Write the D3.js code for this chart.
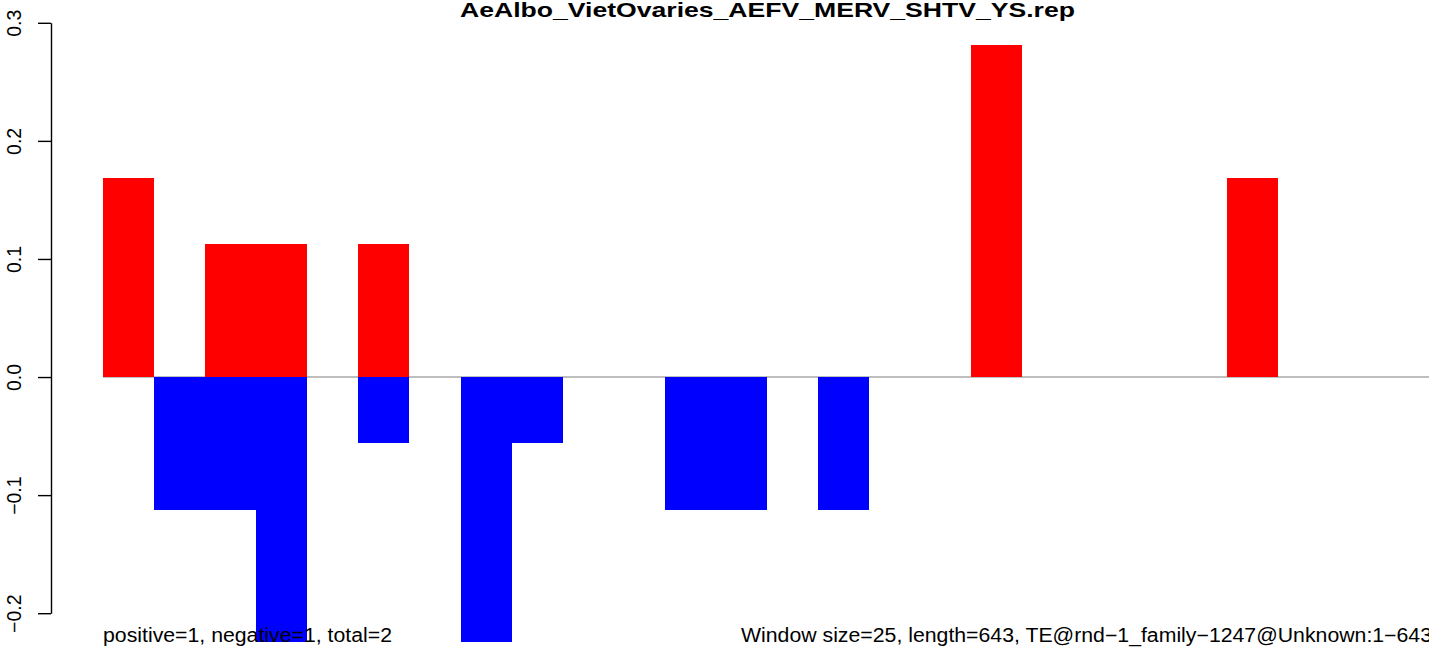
<!DOCTYPE html>
<html>
<head>
<meta charset="utf-8">
<script src="https://cdn.jsdelivr.net/npm/d3@7"></script>
<style>
  html, body { margin: 0; padding: 0; background: #fff; }
  svg { display: block; }
  text { font-family: "Liberation Sans", Arial, Helvetica, sans-serif; fill: #000; }
</style>
</head>
<body>
<svg id="chart" width="1429" height="651"></svg>
<script>
// ---- data ----
const titleText = "AeAlbo_VietOvaries_AEFV_MERV_SHTV_YS.rep";
const windowSize = 25;
const seqLength = 643;
const windowIndex = d3.range(26);
const positiveValues = [0.1685, 0, 0.1124, 0.1124, 0, 0.1124, 0, 0, 0, 0, 0, 0, 0,
                        0, 0, 0, 0, 0.2809, 0, 0, 0, 0, 0.1685, 0, 0, 0];
const negativeValues = [0, -0.1124, -0.1124, -0.2247, 0, -0.0562, 0, -0.2247, -0.0562, 0, 0, -0.1124, -0.1124,
                        0, -0.1124, 0, 0, 0, 0, 0, 0, 0, 0, 0, 0, 0];
const yTicks = [-0.2, -0.1, 0.0, 0.1, 0.2, 0.3];
const leftNote = "positive=1, negative=1, total=2";
const rightNote = "Window size=25, length=643, TE@rnd\u22121_family\u22121247@Unknown:1\u2212643";

// ---- layout ----
const svg = d3.select("#chart");
const x = d3.scaleLinear().domain([0, windowIndex.length * windowSize]).range([103, 1431]);
const y = d3.scaleLinear().domain([-0.2, 0.3]).range([613.2, 22.8]);

// zero line
svg.append("line")
  .attr("x1", x(0)).attr("x2", 1440)
  .attr("y1", y(0)).attr("y2", y(0))
  .attr("stroke", "#a9a9a9").attr("stroke-width", 1.5);

// bars
const bars = svg.append("g");
function barData(vals) {
  return windowIndex.map(i => ({ i, v: vals[i] })).filter(d => d.v !== 0);
}
bars.selectAll("rect.pos").data(barData(positiveValues)).join("rect")
  .attr("class", "pos")
  .attr("x", d => x(d.i * windowSize))
  .attr("width", d => x((d.i + 1) * windowSize) - x(d.i * windowSize))
  .attr("y", d => y(d.v))
  .attr("height", d => y(0) - y(d.v))
  .attr("fill", "#ff0000")
  .attr("shape-rendering", "crispEdges");
bars.selectAll("rect.neg").data(barData(negativeValues)).join("rect")
  .attr("class", "neg")
  .attr("x", d => x(d.i * windowSize))
  .attr("width", d => x((d.i + 1) * windowSize) - x(d.i * windowSize))
  .attr("y", d => y(0))
  .attr("height", d => y(d.v) - y(0))
  .attr("fill", "#0000ff")
  .attr("shape-rendering", "crispEdges");

// y axis
const axis = d3.axisLeft(y).tickValues(yTicks).tickSize(13).tickSizeOuter(0)
  .tickFormat(d3.format(".1f"));
const gA = svg.append("g").attr("transform", "translate(51,0)").call(axis);
gA.select(".domain").attr("stroke", "#000").attr("stroke-width", 1.4);
gA.selectAll(".tick line").attr("stroke", "#000").attr("stroke-width", 1.4);
gA.selectAll(".tick text")
  .attr("x", null).attr("dy", null)
  .attr("text-anchor", "middle")
  .attr("transform", "translate(-30.5,0) rotate(-90)")
  .style("font-size", "19.5px")
  .style("font-family", "'Liberation Sans', Arial, Helvetica, sans-serif")
  .attr("fill", "#000");

// title
svg.append("text")
  .attr("x", 767.5).attr("y", 17)
  .attr("text-anchor", "middle")
  .attr("textLength", 615).attr("lengthAdjust", "spacingAndGlyphs")
  .style("font-size", "21px").style("font-weight", "bold")
  .text(titleText);

// bottom notes
svg.append("text")
  .attr("x", 103).attr("y", 642)
  .attr("textLength", 289).attr("lengthAdjust", "spacingAndGlyphs")
  .style("font-size", "19.5px")
  .text(leftNote);
svg.append("text")
  .attr("x", 741).attr("y", 642)
  .attr("textLength", 691).attr("lengthAdjust", "spacingAndGlyphs")
  .style("font-size", "19.5px")
  .text(rightNote);
</script>
</body>
</html>
